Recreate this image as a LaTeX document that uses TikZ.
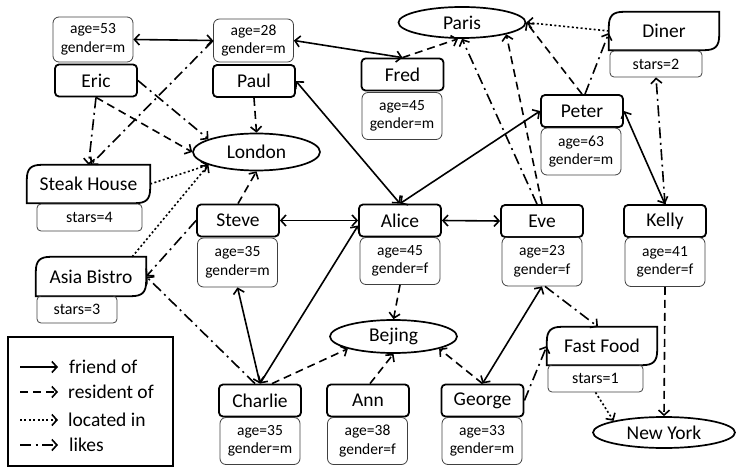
\documentclass[tikz,border=0pt]{standalone}
\usepackage{fontspec}
\setmainfont{Carlito}
\usetikzlibrary{arrows.meta,shapes.geometric}
\newcommand\restshape[1]{\draw[line width=1.8pt] (#1.south west) -- ([yshift=-15pt]#1.north west) .. controls ([yshift=-4pt]#1.north west) and ([xshift=4pt]#1.north west) .. ([xshift=15pt]#1.north west) -- (#1.north east) -- ([yshift=15pt]#1.south east) .. controls ([yshift=4pt]#1.south east) and ([xshift=-4pt]#1.south east) .. ([xshift=-15pt]#1.south east) -- cycle;}
\tikzset{
  namebox/.style={draw, line width=1.8pt, rounded corners=4pt, minimum width=82pt, minimum height=32pt, inner sep=0pt, font=\fontsize{19.5}{21}\selectfont},
  attrbox/.style={draw=black!75, line width=0.8pt, rounded corners=6pt, minimum width=80pt, minimum height=47pt, inner sep=0pt, align=center, font=\fontsize{15.5}{18.5}\selectfont},
  place/.style={ellipse, draw, line width=1.7pt, inner sep=0pt, font=\fontsize{19.5}{21}\selectfont},
  rest/.style={inner sep=0pt, minimum height=38pt, font=\fontsize{19.5}{21}\selectfont},
  starbox/.style={draw=black!75, line width=0.8pt, rounded corners=4pt, minimum height=27pt, inner sep=0pt, font=\fontsize{16}{18}\selectfont},
  tip/.tip={Straight Barb[length=5pt,width=11pt]},
  edge/.style={line width=1.6pt, -tip},
  friend/.style={edge, tip-tip},
  resident/.style={edge, dash pattern=on 8pt off 5pt},
  located/.style={edge, dash pattern=on 2pt off 2.4pt},
  likes/.style={edge, dash pattern=on 11pt off 4.5pt on 2pt off 4.5pt},
  legtext/.style={anchor=west, inner sep=0pt, font=\fontsize{19.5}{21}\selectfont}
}
\begin{document}
\begin{tikzpicture}[x=1pt,y=-1pt]
\useasboundingbox (0,0) rectangle (736,470);
% people
\node[attrbox, minimum height=45pt] (ericA) at (93,39.5) {age=53\\gender=m};
\node[namebox] (eric) at (96,80.5) {Eric};
\node[attrbox, minimum height=43pt] (paulA) at (253.5,40.5) {age=28\\gender=m};
\node[namebox] (paul) at (254,81) {Paul};
\node[namebox] (fred) at (402.5,74.5) {Fred};
\node[attrbox] (fredA) at (402,116) {age=45\\gender=m};
\node[namebox] (peter) at (582,111) {Peter};
\node[attrbox] (peterA) at (581,151.5) {age=63\\gender=m};
\node[namebox] (steve) at (238,220.5) {Steve};
\node[attrbox, minimum height=49pt] (steveA) at (237.5,262.5) {age=35\\gender=m};
\node[namebox] (alice) at (400,220.5) {Alice};
\node[attrbox] (aliceA) at (400,261) {age=45\\gender=f};
\node[namebox] (eve) at (542,221) {Eve};
\node[attrbox, minimum height=49pt] (eveA) at (542,261.5) {age=23\\gender=f};
\node[namebox] (kelly) at (665,221) {Kelly};
\node[attrbox, minimum height=49pt] (kellyA) at (665,262) {age=41\\gender=f};
\node[namebox] (charlie) at (260,400.5) {Charlie};
\node[attrbox] (charlieA) at (260,441) {age=35\\gender=m};
\node[namebox] (ann) at (368,400.5) {Ann};
\node[attrbox] (annA) at (367.5,441) {age=38\\gender=f};
\node[namebox] (george) at (482.5,400.5) {George};
\node[attrbox] (georgeA) at (482,441) {age=33\\gender=m};
% places
\node[place, minimum width=127pt, minimum height=31pt] (paris) at (462,22.5) {Paris};
\node[place, minimum width=127pt, minimum height=37pt] (london) at (256.5,152) {London};
\node[place, minimum width=127pt, minimum height=33pt] (bejing) at (393.5,336.5) {Bejing};
\node[place, minimum width=142pt, minimum height=31pt] (newyork) at (664,432.5) {New York};
% restaurants
\node[rest, minimum width=110pt] (diner) at (664,31) {Diner};
\restshape{diner}
\node[starbox, minimum width=92pt, minimum height=26pt] (dinerS) at (656,64) {stars=2};
\node[rest, minimum width=123pt] (steak) at (88.5,184) {Steak House};
\restshape{steak}
\node[starbox, minimum width=105pt] (steakS) at (89.5,217.5) {stars=4};
\node[rest, minimum width=110pt, minimum height=39pt] (asia) at (91,276.5) {Asia Bistro};
\restshape{asia}
\node[starbox, minimum width=80pt] (asiaS) at (77,309.5) {stars=3};
\node[rest, minimum width=110pt] (ff) at (602,346) {Fast Food};
\restshape{ff}
\node[starbox, minimum width=95pt] (ffS) at (595.5,378.5) {stars=1};
% friend of
\draw[friend] (ericA.east) -- (paulA.west);
\draw[friend] (paulA.east) -- (fred.north);
\draw[friend] (paul.east) -- (alice.north);
\draw[friend] (peter.west) -- (alice.north);
\draw[friend] (steve.east) -- (alice.west);
\draw[friend] (alice.east) -- (eve.west);
\draw[friend] (peter.east) -- (kelly.north);
\draw[friend] (charlie.north) -- (steveA.south);
\draw[friend] (charlie.north) -- ([yshift=-5pt]alice.west);
\draw[friend] (george.north) -- (eveA.south);
% resident of
\draw[resident] (eric.south) -- (london.west);
\draw[resident] (paul.south) -- (london.north);
\draw[resident] (fred.north) -- ([xshift=-4pt]paris.south);
\draw[resident] (steve.north) -- (london.south);
\draw[resident] (peter.north) -- (paris.east);
\draw[resident] (eve.north) -- (paris.-15);
\draw[resident] (aliceA.south) -- (bejing.north);
\draw[resident] ([xshift=12pt]charlie.north) -- (bejing.195);
\draw[resident] ([xshift=2pt]ann.north) -- (bejing.south);
\draw[resident] (george.north) -- (bejing.-15);
\draw[resident] (kellyA.south) -- (newyork.north);
% located in
\draw[located] (steak.east) -- (london.195);
\draw[located] ([xshift=-14pt]asia.north east) -- (london.195);
\draw[located] (diner.west) -- (paris.east);
\draw[located] (ffS.south) -- (newyork.167);
% likes
\draw[likes] (eric.south) -- (steak.north);
\draw[likes] (eric.east) -- (london.165);
\draw[likes] (paulA.west) -- ([xshift=2pt]steak.north);
\draw[likes] (steve.west) -- (asia.east);
\draw[likes] ([xshift=-5pt]charlie.north) -- (asia.east);
\draw[likes] ([xshift=-5pt]eve.north) -- (paris.south);
\draw[likes] ([xshift=3pt]peter.north) -- ([yshift=-2pt]diner.west);
\draw[likes] (kelly.north) -- (dinerS.south);
\draw[likes] ([xshift=3pt]eveA.south) -- ([xshift=-4pt]ff.north);
\draw[likes] (george.east) -- (ff.west);
% legend
\node[draw, line width=1.5pt, minimum width=165pt, minimum height=129pt, inner sep=0pt] (legend) at (90.5,401.5) {};
\coordinate (la1) at (20,367); \coordinate (lb1) at (58,367);
\coordinate (la2) at (20,392); \coordinate (lb2) at (58,392);
\coordinate (la3) at (20,420); \coordinate (lb3) at (58,420);
\coordinate (la4) at (20,445); \coordinate (lb4) at (58,445);
\draw[edge] (la1) -- (lb1);
\draw[resident] (la2) -- (lb2);
\draw[located] (la3) -- (lb3);
\draw[likes] (la4) -- (lb4);
\node[legtext] (t1) at (69,367) {friend of};
\node[legtext] (t2) at (68,392) {resident of};
\node[legtext] (t3) at (68,420) {located in};
\node[legtext] (t4) at (69,445) {likes};
\end{tikzpicture}
\end{document}
